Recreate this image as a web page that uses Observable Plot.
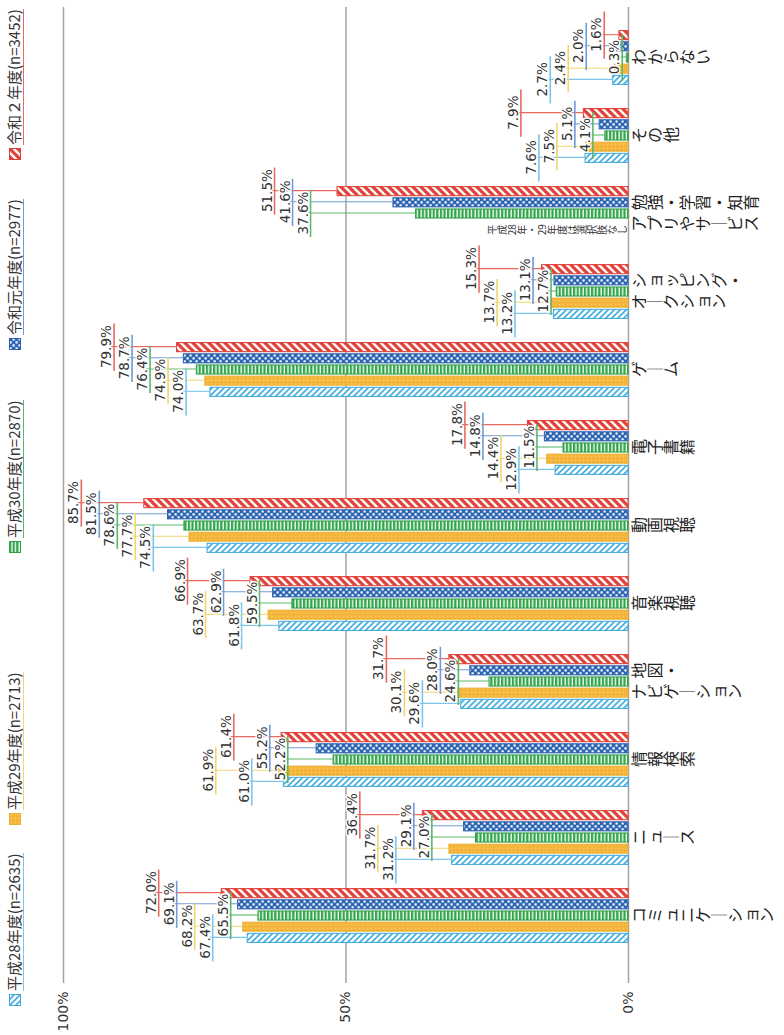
<!DOCTYPE html>
<html>
<head>
<meta charset="utf-8">
<script src="https://cdn.jsdelivr.net/npm/d3@7"></script>
<script src="https://cdn.jsdelivr.net/npm/@observablehq/plot@0.6"></script>
<style>
html,body{margin:0;padding:0;background:#fff;overflow:hidden;}
#page{position:absolute;left:0;top:0;width:1035px;height:784px;transform-origin:0 0;transform:translate(0,1035px) rotate(-90deg);background:#fff;font-family:"Noto Sans CJK JP","Noto Sans",sans-serif;}
#legend{position:relative;height:33px;}
.item{position:absolute;top:5px;display:flex;align-items:center;font-size:15px;color:#333;white-space:nowrap;}
.item svg{margin-right:3px;}
.item span{border-bottom:1.6px solid;line-height:1.2;}
</style>
</head>
<body>
<svg width="0" height="0" style="position:absolute">
<defs>
<pattern id="p28" patternUnits="userSpaceOnUse" width="6" height="6"><rect width="6" height="6" fill="#fff"/><path d="M-1,-1L7,7M-1,5L1,7M5,-1L7,1" stroke="#45AEE2" stroke-width="1.7"/></pattern>
<pattern id="p29" patternUnits="userSpaceOnUse" width="4" height="4"><rect width="4" height="4" fill="#F5B73D"/><rect x="0" y="0" width="1" height="1" fill="#E8A22C"/><rect x="2" y="2" width="1" height="1" fill="#F8CB66"/></pattern>
<pattern id="p30" patternUnits="userSpaceOnUse" width="4" height="3.6"><rect width="4" height="3.6" fill="#32A64A"/><rect y="2.3" width="4" height="1.3" fill="#fff"/></pattern>
<pattern id="p31" patternUnits="userSpaceOnUse" width="6" height="6"><rect width="6" height="6" fill="#2D67B4"/><rect x="0.5" y="0.5" width="2.2" height="2.2" fill="#fff"/><rect x="3.5" y="3.5" width="2.2" height="2.2" fill="#fff"/></pattern>
<pattern id="p32" patternUnits="userSpaceOnUse" width="8" height="8"><rect width="8" height="8" fill="#E4433B"/><path d="M-1,9L9,-1M-1,1L1,-1M7,9L9,7" stroke="#fff" stroke-width="2.4"/></pattern>
</defs>
</svg>
<div id="page"><div id="legend"></div><div id="chart"></div></div>
<script>
// ---- data ----
const categories = ["コミュニケーション","ニュース","情報検索","地図・ナビゲーション","音楽視聴","動画視聴","電子書籍","ゲーム","ショッピング・オークション","勉強・学習・知育アプリやサービス","その他","わからない"];
const labelColumns = [["コミュニケーション"],["ニュース"],["情報検索"],["地図・","ナビゲーション"],["音楽視聴"],["動画視聴"],["電子書籍"],["ゲーム"],["ショッピング・","オークション"],["勉強・学習・知育","アプリやサービス"],["その他"],["わからない"]];
const seriesNames = ["平成28年度(n=2635)","平成29年度(n=2713)","平成30年度(n=2870)","令和元年度(n=2977)","令和２年度(n=3452)"];
const h28 = [67.4, 31.2, 61.0, 29.6, 61.8, 74.5, 12.9, 74.0, 13.2, null, 7.6, 2.7];
const h29 = [68.2, 31.7, 61.9, 30.1, 63.7, 77.7, 14.4, 74.9, 13.7, null, 7.5, 2.4];
const h30 = [65.5, 27.0, 52.2, 24.6, 59.5, 78.6, 11.5, 76.4, 12.7, 37.6, 4.1, 0.3];
const r1  = [69.1, 29.1, 55.2, 28.0, 62.9, 81.5, 14.8, 78.7, 13.1, 41.6, 5.1, 2.0];
const r2  = [72.0, 36.4, 61.4, 31.7, 66.9, 85.7, 17.8, 79.9, 15.3, 51.5, 7.9, 1.6];
const noteText = "平成28年・29年度は選択肢なし";
const noteCategoryIndex = 9;
const yTicks = [0, 50, 100];

// ---- styles ----
const seriesValues = [h28, h29, h30, r1, r2];
const seriesStyle = [
  {pat: "p28", stroke: "#3CA6DD", line: "#7CC6EA"},
  {pat: "p29", stroke: "#EDAF33", line: "#F2D56B"},
  {pat: "p30", stroke: "#2C9C45", line: "#5BB86A"},
  {pat: "p31", stroke: "#2A5FAE", line: "#6F9BD6"},
  {pat: "p32", stroke: "#E03B32", line: "#EA6A60"}
];
const legendLeft = [29, 210, 482, 685, 875];

const W = 1035, H = 751, mT = 30, mB = 156, mL = 52, mR = 7;
const pIn = 0.29, pOut = 0.345;
const step = (W - mL - mR) / (categories.length - pIn + 2 * pOut);
const bw = step * (1 - pIn);
const bwEach = bw / 5;
const pxPerPct = (H - mT - mB) / 100;
const stackTop = 66, stackStep = 18;

// vertical (stacked) text: one glyph per line, digit runs kept together, long mark made vertical
function stackText(s) {
  return (s.match(/[0-9]+|./g) || []).map(ch => ch === "ー" ? "｜" : ch).join("\n");
}

// legend
const legend = document.getElementById("legend");
seriesNames.forEach((name, k) => {
  const it = document.createElement("div");
  it.className = "item";
  it.style.left = legendLeft[k] + "px";
  it.innerHTML = `<svg width="12" height="12"><rect x="0.5" y="0.5" width="11" height="11" fill="url(#${seriesStyle[k].pat})" stroke="${seriesStyle[k].stroke}"/></svg><span style="border-color:${seriesStyle[k].line}">${name}</span>`;
  legend.appendChild(it);
});

// label ranks (by value within category)
function labelY(i, k) {
  const present = seriesValues.map((s, j) => ({j, v: s[i]})).filter(d => d.v != null);
  const sorted = present.slice().sort((a, b) => b.v - a.v || b.j - a.j);
  const rank = sorted.findIndex(d => d.j === k);
  const max = sorted[0].v;
  return max + (stackTop - rank * stackStep) / pxPerPct;
}

const marks = [Plot.ruleY(yTicks, {stroke: "#a3a3a3", strokeWidth: 1.5})];
const leaders = [], underlines = [], texts = [];
seriesValues.forEach((vals, k) => {
  const st = seriesStyle[k];
  const rows = categories.map((c, i) => ({cat: c, value: vals[i], ly: vals[i] == null ? null : labelY(i, k)})).filter(d => d.value != null);
  const c = (k - 2) * bwEach;
  marks.push(Plot.barY(rows, {x: "cat", y: "value", fill: `url(#${st.pat})`, stroke: st.stroke, strokeWidth: 1,
    insetLeft: k * bwEach + 0.6, insetRight: (4 - k) * bwEach + 0.6}));
  leaders.push(Plot.ruleX(rows, {x: "cat", y1: "value", y2: "ly", dx: c, stroke: st.line, strokeWidth: 1.1}));
  underlines.push(Plot.tickY(rows, {x: "cat", y: "ly", dy: 3, insetLeft: bw / 2 + c - 24, insetRight: bw / 2 - c - 24, stroke: st.line, strokeWidth: 1.6}));
  texts.push(Plot.text(rows, {x: "cat", y: "ly", dx: c, text: d => d.value.toFixed(1) + "%", textAnchor: "middle", lineAnchor: "bottom",
    fontSize: 13.5, fontFamily: "DejaVu Sans", fill: "#333", stroke: "white", strokeWidth: 3, paintOrder: "stroke"}));
});
marks.push(...leaders, ...underlines, ...texts);

// category labels (stacked vertical columns)
const catRows = categories.flatMap((cat, i) => labelColumns[i].map((t, j) => ({cat, text: stackText(t), col: j, n: labelColumns[i].length})));
const catOpts = {x: "cat", y: () => 0, text: "text", textAnchor: "middle", lineAnchor: "top", lineHeight: 1.0, dy: 5,
  fontSize: 16, fontFamily: "Noto Sans CJK JP", fill: "#222"};
marks.push(Plot.text(catRows.filter(d => d.n === 1), {...catOpts}));
marks.push(Plot.text(catRows.filter(d => d.n === 2 && d.col === 0), {...catOpts, dx: 10.5}));
marks.push(Plot.text(catRows.filter(d => d.n === 2 && d.col === 1), {...catOpts, dx: -10.5}));
marks.push(Plot.text([noteText], {x: () => categories[noteCategoryIndex], y: () => 0, text: d => stackText(d), dx: -1.5 * bwEach, dy: -3,
  textAnchor: "middle", lineAnchor: "bottom", lineHeight: 1.0, fontSize: 10, fontFamily: "Noto Sans CJK JP", fill: "#333"}));

const chart = Plot.plot({
  width: W, height: H, marginTop: mT, marginBottom: mB, marginLeft: mL, marginRight: mR,
  style: {fontFamily: "DejaVu Sans", fontSize: "14px", color: "#333", background: "white"},
  x: {domain: categories, paddingInner: pIn, paddingOuter: pOut, align: 0.64, axis: null},
  y: {domain: [0, 100], ticks: yTicks, tickFormat: d => d + "%", tickSize: 0, tickPadding: 9, label: null},
  marks
});
document.getElementById("chart").appendChild(chart);
</script>
</body>
</html>
